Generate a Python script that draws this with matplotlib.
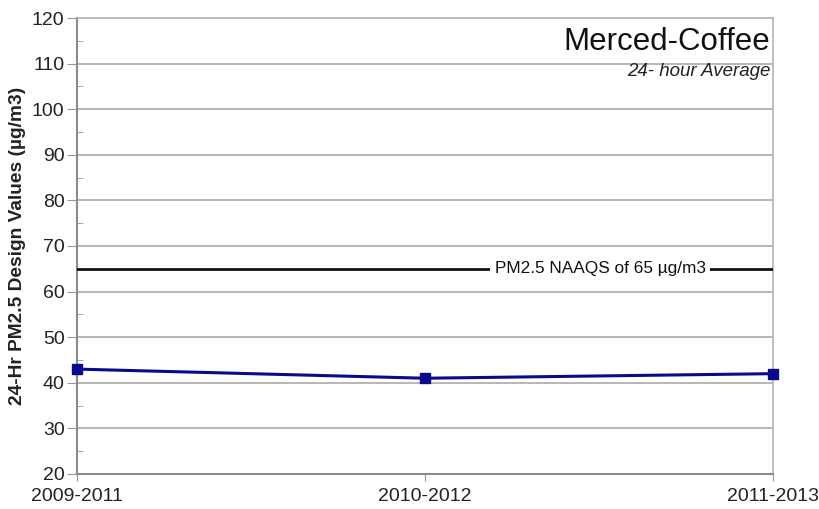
import matplotlib
matplotlib.use('Agg')
from matplotlib import pyplot as plt
from matplotlib.ticker import MultipleLocator

periods = ['2009-2011', '2010-2012', '2011-2013']
design_values = [43, 41, 42]
naaqs = 65

plt.rcParams['font.family'] = ['Liberation Sans', 'DejaVu Sans']

fig = plt.figure(figsize=(8.2, 5.09), dpi=100)
ax = fig.add_axes([0.0939, 0.0688, 0.8488, 0.8958])

x = list(range(len(periods)))
ax.plot(x, design_values, color='#0a0a8a', linewidth=2.2, marker='s', markersize=7,
        zorder=4, clip_on=False)
ax.axhline(naaqs, color='#111111', linewidth=2, zorder=3)
ax.text(1.503, naaqs, 'PM2.5 NAAQS of 65 µg/m3', ha='center', va='center', fontsize=12.4,
        color='#111111', zorder=5,
        bbox=dict(facecolor='white', edgecolor='none', pad=3))

ax.set_xlim(0, 2)
ax.set_ylim(20, 120)
ax.set_xticks(x)
ax.set_xticklabels(periods, fontsize=14, color='#222222')
ax.yaxis.set_major_locator(MultipleLocator(10))
ax.yaxis.set_minor_locator(MultipleLocator(5))
ax.tick_params(axis='y', which='major', direction='out', length=7, labelsize=14,
               labelcolor='#222222', color='#999999', pad=2)
ax.tick_params(axis='y', which='minor', direction='in', length=4, color='#999999')
ax.tick_params(axis='x', which='major', direction='out', length=5, color='#999999', pad=5)

ax.grid(axis='y', color='#aaaaaa', linewidth=1.2)
ax.set_axisbelow(True)
for side in ['top', 'right']:
    ax.spines[side].set_color('#b5b5b5')
    ax.spines[side].set_linewidth(1.2)
for side in ['left', 'bottom']:
    ax.spines[side].set_color('#8c8c8c')
    ax.spines[side].set_linewidth(1.5)

ax.set_ylabel('24-Hr PM2.5 Design Values (µg/m3)', fontsize=13.8, fontweight='bold',
              color='#222222', labelpad=4)

ax.text(0.9957, 0.947, 'Merced-Coffee', transform=ax.transAxes, ha='right', va='center',
        fontsize=22.5, color='#111111')
ax.text(0.9957, 0.882, '24- hour Average', transform=ax.transAxes, ha='right', va='center',
        fontsize=13.5, fontstyle='italic', color='#222222')

fig.savefig('out.png', dpi=100, facecolor='white')
plt.close(fig)
